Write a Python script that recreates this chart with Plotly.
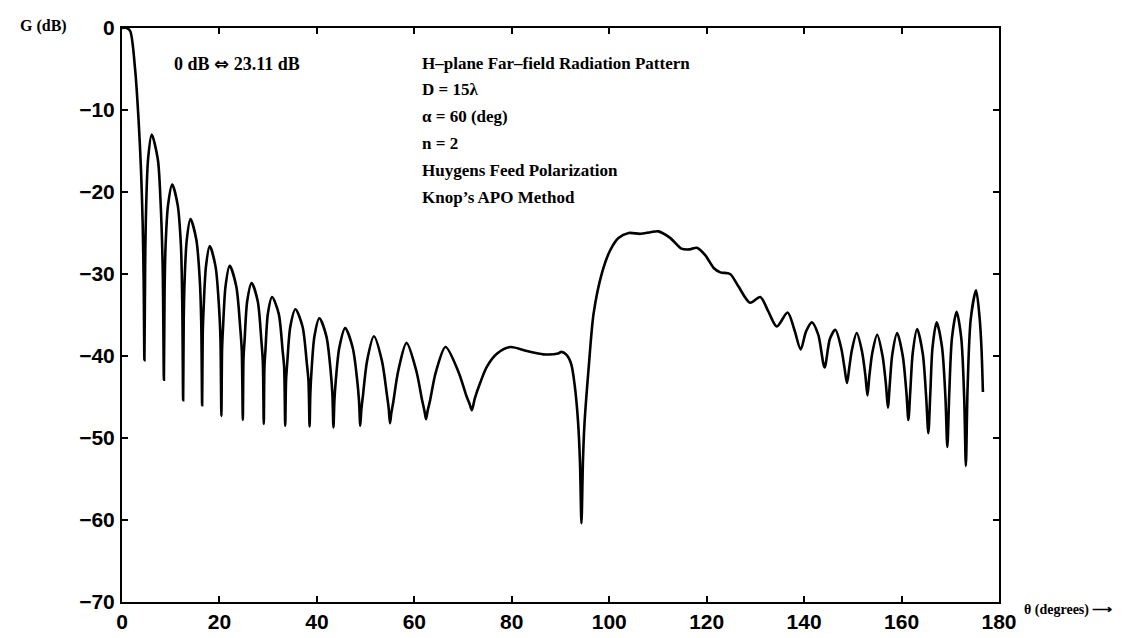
import plotly.graph_objects as go

# H-plane far-field pattern, normalised gain (dB) versus observation angle (deg)
theta_deg = [
    0.0, 1.0, 1.7, 2.7, 3.4, 3.9, 4.25, 4.45, 4.6,
    4.75, 4.9, 5.35, 6.1, 7.35, 7.9, 8.35, 8.6,
    8.74, 8.94, 9.45, 10.3, 11.43, 12.1, 12.37, 12.55,
    12.67, 12.85, 13.3, 14.05, 15.25, 15.97, 16.26, 16.45,
    16.57, 16.76, 17.23, 18.0, 19.2, 19.92, 20.21, 20.4,
    20.54, 20.74, 21.25, 22.1, 23.45, 24.26, 24.58, 24.8,
    24.94, 25.16, 25.7, 26.6, 27.85, 28.6, 28.9, 29.1,
    29.24, 29.44, 29.95, 30.8, 32.15, 32.96, 33.28, 33.5,
    33.67, 33.92, 34.55, 35.6, 37.05, 37.92, 38.27, 38.5,
    38.66, 38.9, 39.5, 40.5, 41.95, 42.82, 43.17, 43.4,
    43.59, 43.88, 44.6, 45.8, 47.35, 48.28, 48.65, 48.9,
    49.12, 49.46, 50.3, 51.7, 53.35, 54.34, 54.74, 55.0,
    55.27, 55.68, 56.7, 58.4, 60.4, 61.6, 62.08, 62.4,
    62.72, 63.2, 64.4, 66.4, 69.1, 70.7, 71.37, 71.8,
    72.4, 73.5, 74.9, 77.0, 79.7, 83.1, 86.5, 89.5, 90.2, 91.3,
    92.2, 92.9, 93.6, 94.0, 94.3, 94.6, 94.9, 95.8, 96.8, 98.5,
    100.2, 101.9, 104.0, 106.4, 108.5, 110.1, 112.5, 114.8, 116.5, 118.0,
    119.7, 121.5, 122.8, 124.8, 126.5, 128.9, 131.0, 132.6, 134.4, 136.6,
    138.0, 139.3, 140.4, 141.6, 142.9, 144.2, 145.3, 146.4, 147.6, 148.3,
    148.8, 149.3, 149.8, 150.8, 151.9, 152.6, 153.0, 153.4, 154.0, 155.0,
    156.1, 156.8, 157.2, 157.6, 158.1, 159.1, 160.25, 161.0, 161.4, 161.8,
    162.3, 163.2, 164.35, 165.05, 165.5, 165.9, 166.35, 167.2, 168.3, 169.0,
    169.4, 169.8, 170.35, 171.3, 172.25, 172.85, 173.2, 173.55, 174.2, 175.3,
    176.0, 176.4, 176.7,
]
gain_db = [
    0.0, 0.0, -0.4, -5.1, -11.2, -17.3, -24.0, -31.0, -40.5,
    -29.1, -23.2, -16.0, -13.0, -16.0, -21.0, -29.1, -42.9,
    -32.2, -26.6, -21.6, -19.1, -21.6, -26.6, -33.6, -45.4,
    -35.5, -30.8, -25.8, -23.3, -25.8, -30.8, -35.8, -46.0,
    -37.3, -34.1, -29.1, -26.6, -29.1, -34.1, -38.0, -47.3,
    -39.1, -36.5, -31.5, -29.0, -31.5, -36.5, -39.3, -47.8,
    -40.3, -38.1, -33.3, -31.1, -33.3, -38.1, -40.6, -48.3,
    -41.3, -39.3, -34.8, -32.8, -34.8, -39.3, -41.4, -48.5,
    -43.0, -40.8, -36.4, -34.3, -36.4, -40.8, -43.0, -48.6,
    -44.5, -41.8, -37.6, -35.4, -37.6, -41.8, -44.5, -48.7,
    -45.5, -43.0, -39.0, -36.6, -39.0, -43.0, -45.5, -48.5,
    -46.6, -44.8, -40.6, -37.6, -40.6, -44.6, -46.4, -48.2,
    -47.0, -45.6, -41.8, -38.4, -41.8, -45.4, -46.7, -47.7,
    -46.7, -45.5, -42.0, -38.9, -42.0, -44.9, -45.9, -46.6,
    -45.2, -43.3, -41.3, -39.7, -38.9, -39.4, -39.8, -39.7, -39.5, -39.9,
    -41.0, -43.5, -48.0, -53.0, -60.4, -53.0, -48.5, -41.3, -34.8, -29.9,
    -27.1, -25.6, -25.0, -25.1, -24.9, -24.8, -25.6, -26.9, -27.0, -26.8,
    -27.7, -29.3, -29.8, -30.0, -31.5, -33.5, -32.8, -34.5, -36.4, -34.7,
    -36.8, -39.2, -37.0, -35.9, -37.4, -41.4, -37.9, -36.8, -39.0, -41.5,
    -43.3, -41.3, -39.3, -37.2, -39.5, -42.5, -44.8, -42.4, -39.6, -37.4,
    -40.0, -43.5, -46.3, -43.3, -39.8, -37.2, -40.0, -44.5, -47.8, -44.2,
    -39.6, -36.7, -39.7, -45.0, -49.4, -44.6, -39.0, -35.9, -38.9, -45.0,
    -51.1, -44.4, -37.8, -34.6, -37.8, -45.0, -53.4, -44.0, -35.5, -32.0,
    -35.2, -39.0, -44.4,
]

x_ticks = [0, 20, 40, 60, 80, 100, 120, 140, 160, 180]
y_ticks = [0, -10, -20, -30, -40, -50, -60, -70]

y_title = "G (dB)"
x_title = "θ (degrees) ⟶"
reference_note = "0 dB <span style=\"font-family:'DejaVu Sans'\">⇔</span> 23.11 dB"
info_lines = [
    "H–plane Far–field Radiation Pattern",
    "D = 15λ",
    "α = 60 (deg)",
    "n = 2",
    "Huygens Feed Polarization",
    "Knop’s APO Method",
]

W, H = 1138, 638
ML, MR, MT, MB = 122, 139, 28, 36
PW, PH = W - ML - MR, H - MT - MB


def px_to_paper(px, py):
    return (px - ML) / PW, (H - MB - py) / PH


SERIF = "Liberation Serif, Times New Roman, serif"
SANS = "Liberation Sans, Arial, sans-serif"

fig = go.Figure(
    go.Scatter(
        x=theta_deg,
        y=gain_db,
        mode="lines",
        line=dict(color="black", width=2.6, shape="spline", smoothing=0.8),
        showlegend=False,
        hoverinfo="x+y",
    )
)

axis_common = dict(
    showline=True,
    linecolor="black",
    linewidth=2,
    mirror="ticks",
    ticks="inside",
    ticklen=6,
    tickwidth=1.5,
    tickcolor="black",
    showgrid=False,
    zeroline=False,
    automargin=False,
    tickfont=dict(family=SANS, size=21, color="black", weight="bold"),
)

fig.update_xaxes(range=[0, 180], tickvals=x_ticks, ticklabelstandoff=0, **axis_common)
fig.update_yaxes(range=[-70, 0], tickvals=y_ticks, ticklabelstandoff=1, **axis_common)

annotations = []

x0, y0 = px_to_paper(18, 26)
annotations.append(dict(text=y_title, x=x0, y=y0, xanchor="left", yanchor="middle",
                        font=dict(family=SERIF, size=16, color="black", weight="bold")))

x0, y0 = px_to_paper(1022, 610)
annotations.append(dict(text=x_title, x=x0, y=y0, xanchor="left", yanchor="middle",
                        font=dict(family=SERIF, size=14, color="black", weight="bold")))

x0, y0 = px_to_paper(172, 63)
annotations.append(dict(text=reference_note, x=x0, y=y0, xanchor="left", yanchor="middle",
                        font=dict(family=SERIF, size=18, color="black", weight="bold")))

for i, line in enumerate(info_lines):
    x0, y0 = px_to_paper(420, 63 + 26.8 * i)
    annotations.append(dict(text=line, x=x0, y=y0, xanchor="left", yanchor="middle",
                            font=dict(family=SERIF, size=17, color="black", weight="bold")))

for a in annotations:
    a.update(xref="paper", yref="paper", showarrow=False)

fig.update_layout(
    width=W,
    height=H,
    margin=dict(l=ML, r=MR, t=MT, b=MB, autoexpand=False),
    paper_bgcolor="white",
    plot_bgcolor="white",
    annotations=annotations,
)

fig.write_html("out.html")
